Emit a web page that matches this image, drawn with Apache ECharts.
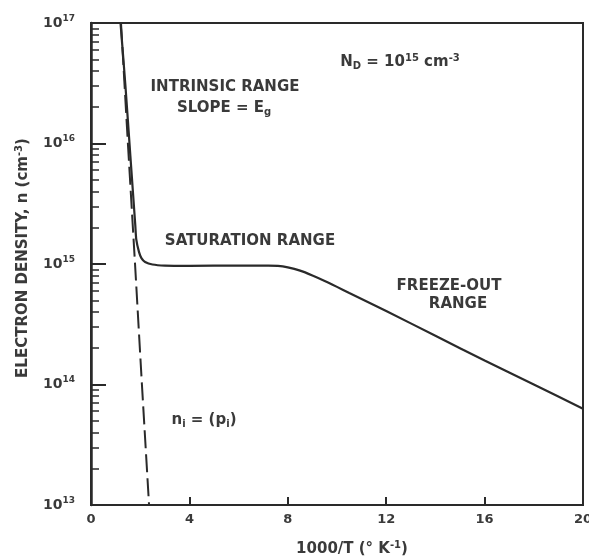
<!DOCTYPE html>
<html lang="en" style="height: 100%">
<head>
<meta charset="utf-8">
<title>Electron density vs 1000/T</title>
</head>
<body style="height: 100%; margin: 0; background: #fff">
<div id="container" style="width: 589px; height: 560px"></div>
<script type="text/javascript" src="https://cdn.jsdelivr.net/npm/echarts@6/dist/echarts.min.js"></script>
<script type="text/javascript">

// n(T) for N_D = 1e15 cm^-3
var totalX = [1.20, 1.40, 1.60, 1.80, 1.84, 1.95, 2.05, 2.20, 2.50, 3.0, 4.0, 6.0, 7.2, 7.6, 8.0, 8.5, 9.0, 9.5, 10.0, 10.5, 11.0, 12.0, 14.0, 16.0, 18.0, 20.0];
var totalN = [1.0e17, 3.0e16, 7.9e15, 2.1e15, 1.6e15, 1.26e15, 1.12e15, 1.04e15, 0.99e15, 0.97e15, 0.966e15, 0.97e15, 0.97e15, 9.66e14, 9.38e14, 8.81e14, 8.04e14, 7.24e14, 6.46e14, 5.75e14, 5.13e14, 4.07e14, 2.54e14, 1.58e14, 1.0e14, 6.3e13];

// intrinsic carrier density n_i (dashed)
var intrX = [1.22, 1.50, 1.79, 2.07, 2.36];
var intrN = [1e17, 1e16, 1e15, 1e14, 1e13];

var yMinor = [];
[13, 14, 15, 16].forEach(function (e) {
    for (var k = 2; k <= 9; k++) yMinor.push(k * Math.pow(10, e));
});

function pairs(xs, ys) {
    return xs.map(function (x, i) { return [x, ys[i]]; });
}

var ink = '#2a2a2a';
var txt = '#3a3a3a';
var font = 'DejaVu Sans';

var dom = document.getElementById('container');
var myChart = echarts.init(dom, null, { renderer: 'canvas' });

function label(text, x, y, extra) {
    var el = {
        type: 'text',
        x: x,
        y: y,
        style: {
            text: text,
            fill: txt,
            font: 'bold 15px "' + font + '"',
            align: 'center',
            verticalAlign: 'middle',
            rich: {
                sub: { fontSize: 10, fontWeight: 'bold', fontFamily: font, fill: txt, padding: [8, 0, 0, 0] },
                sup: { fontSize: 10, fontWeight: 'bold', fontFamily: font, fill: txt, padding: [0, 0, 8, 0] }
            }
        }
    };
    if (extra) Object.assign(el, extra);
    return el;
}

var option = {
    animation: false,
    grid: {
        left: 91, right: 6, top: 23, bottom: 55,
        outerBoundsMode: 'none',
        show: true, borderColor: ink, borderWidth: 2, backgroundColor: '#fff'
    },
    xAxis: {
        type: 'value',
        min: 0, max: 20, interval: 4,
        axisLine: { lineStyle: { color: ink, width: 2 } },
        axisTick: { inside: true, length: 8, lineStyle: { color: ink, width: 2 } },
        axisLabel: { color: txt, fontFamily: font, fontSize: 13, fontWeight: 'bold', margin: 8 },
        splitLine: { show: false }
    },
    yAxis: [
        {
            type: 'log', logBase: 10,
            min: 1e13, max: 1e17,
            axisLine: { show: true, lineStyle: { color: ink, width: 2.5 } },
            axisTick: { inside: true, length: 15, lineStyle: { color: ink, width: 2 } },
            axisLabel: {
                margin: 16,
                formatter: function (v) {
                    return '{b|10}{sup|' + Math.round(Math.log10(v)) + '}';
                },
                rich: {
                    b: { color: txt, fontFamily: font, fontSize: 14, fontWeight: 'bold' },
                    sup: { color: txt, fontFamily: font, fontSize: 9, fontWeight: 'bold', padding: [0, 0, 9, 0] }
                }
            },
            splitLine: { show: false }
        },
        {
            type: 'log', logBase: 10,
            min: 1e13, max: 1e17,
            position: 'left',
            axisLine: { show: false },
            axisTick: { inside: true, length: 8, customValues: yMinor, lineStyle: { color: ink, width: 1.5 } },
            axisLabel: { show: false },
            splitLine: { show: false }
        }
    ],
    series: [
        {
            type: 'line',
            data: pairs(totalX, totalN),
            symbol: 'none',
            smooth: 0.2,
            clip: true,
            lineStyle: { color: ink, width: 2.2 }
        },
        {
            type: 'line',
            data: pairs(intrX, intrN),
            symbol: 'none',
            clip: true,
            lineStyle: { color: ink, width: 2, type: [18, 6] }
        }
    ],
    graphic: [
        label('INTRINSIC RANGE', 225, 87),
        label('SLOPE = E{sub|g}', 224, 108),
        label('N{sub|D} = 10{sup|15} cm{sup|-3}', 400, 62),
        label('SATURATION RANGE', 250, 241),
        label('FREEZE-OUT', 449, 286),
        label('RANGE', 458, 304),
        label('n{sub|i} = (p{sub|i})', 204, 420),
        label('1000/T (\u00b0 K{sup|-1})', 352, 549),
        label('ELECTRON DENSITY, n (cm{sup|-3})', 23, 258, { rotation: Math.PI / 2 })
    ]
};

myChart.setOption(option);
window.addEventListener('resize', myChart.resize);
</script>
</body>
</html>
